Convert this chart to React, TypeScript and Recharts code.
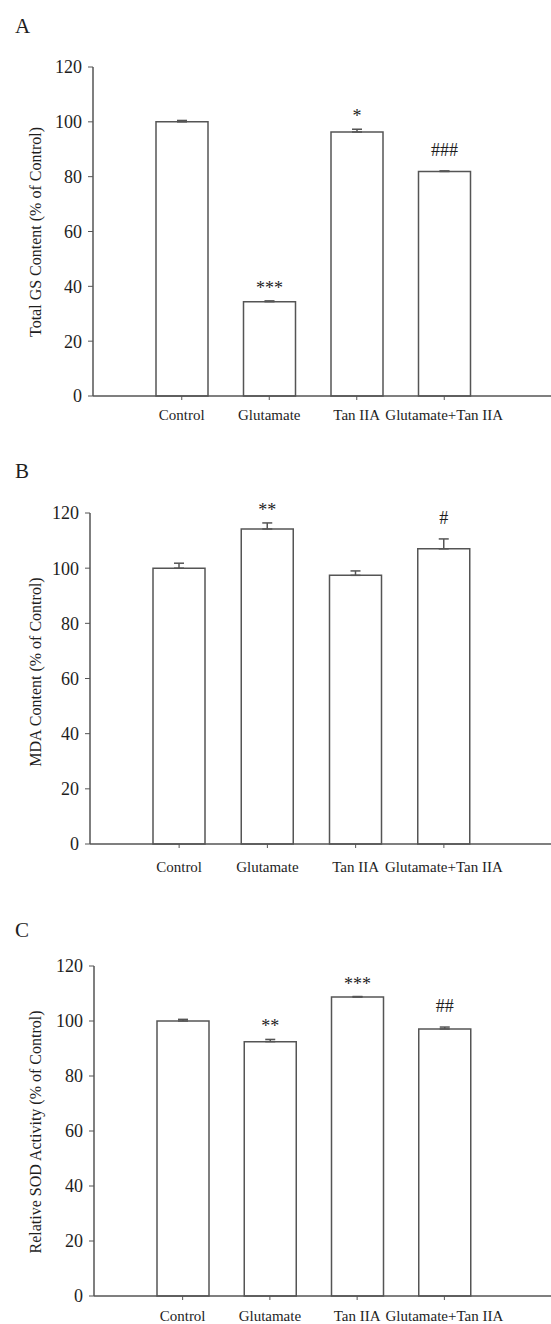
import { BarChart, Bar, XAxis, YAxis, ErrorBar, LabelList, Label } from "recharts";

const groups = ["Control", "Glutamate", "Tan IIA", "Glutamate+Tan IIA"];
const yTicks = [0, 20, 40, 60, 80, 100, 120];

// A - total GS content
const gsValues = [100, 34.4, 96.3, 81.9];
const gsErrors = [0.5, 0.3, 1.0, 0.2];
const gsMarks = ["", "***", "*", "###"];

// B - MDA content
const mdaValues = [100, 114.2, 97.4, 107.0];
const mdaErrors = [1.8, 2.2, 1.6, 3.6];
const mdaMarks = ["", "**", "", "#"];

// C - SOD activity
const sodValues = [100, 92.5, 108.7, 97.1];
const sodErrors = [0.6, 0.8, 0.2, 0.7];
const sodMarks = ["", "**", "***", "##"];

const FONT = '"Liberation Serif", "Times New Roman", serif';
const LINE = "#555555";
const TEXT = "#1e1e1e";

interface PanelProps {
  letter: string;
  letterTop: number;
  yLabel: string;
  values: number[];
  errors: number[];
  marks: string[];
  top: number;
  height: number;
  plotTop: number;
  plotBottom: number;
  axisLeft: number;
  labelCenter: number;
  tickGap: number;
}

function Panel(p: PanelProps) {
  const data = groups.map((name, i) => ({
    name,
    value: p.values[i],
    err: [0, p.errors[i]],
    mark: p.marks[i],
  }));

  const renderMark = (props: any) => {
    const vb = props.viewBox || {};
    const x = props.x ?? vb.x;
    const y = props.y ?? vb.y;
    const w = props.width ?? vb.width;
    const h = props.height ?? vb.height;
    const i = props.index;
    const mark = p.marks[i];
    if (!mark) return null;
    const errTop = y - (p.errors[i] * h) / p.values[i];
    const gap = mark.startsWith("#") ? 15 : 7;
    return (
      <text x={x + w / 2} y={errTop - gap} textAnchor="middle" fontSize={18} fontFamily={FONT} fill={TEXT}>
        {mark}
      </text>
    );
  };

  const renderYLabel = () => (
    <text
      x={35}
      y={p.labelCenter}
      transform={`rotate(-90, 35, ${p.labelCenter})`}
      textAnchor="middle"
      dominantBaseline="central"
      fontSize={16}
      fontFamily={FONT}
      fill={TEXT}
    >
      {p.yLabel}
    </text>
  );

  return (
    <div style={{ position: "absolute", left: 0, top: p.top, width: 551, height: p.height }}>
      <div
        style={{
          position: "absolute",
          left: 15,
          top: p.letterTop,
          fontFamily: FONT,
          fontSize: 21,
          lineHeight: "21px",
          color: TEXT,
        }}
      >
        {p.letter}
      </div>
      <BarChart
        width={551}
        height={p.height}
        data={data}
        margin={{ top: p.plotTop, right: 0, left: 0, bottom: p.height - p.plotBottom - 20 }}
      >
        <XAxis
          dataKey="name"
          height={20}
          padding={{ left: 45, right: 63 }}
          axisLine={{ stroke: LINE, strokeWidth: 1.5 }}
          tickLine={{ stroke: LINE }}
          tickSize={4}
          tickMargin={p.tickGap}
          interval={0}
          tick={{ fontSize: 15, fontFamily: FONT, fill: TEXT }}
        />
        <YAxis
          width={p.axisLeft}
          domain={[0, 120]}
          ticks={yTicks}
          interval={0}
          axisLine={{ stroke: LINE, strokeWidth: 1.5 }}
          tickLine={{ stroke: LINE }}
          tickSize={5}
          tickMargin={6}
          tick={{ fontSize: 18, fontFamily: FONT, fill: TEXT }}
        >
          <Label content={renderYLabel} />
        </YAxis>
        <Bar dataKey="value" barSize={52} fill="#ffffff" stroke={LINE} strokeWidth={1.5} isAnimationActive={false}>
          <ErrorBar dataKey="err" width={5} stroke={LINE} strokeWidth={1.5} direction="y" isAnimationActive={false} />
          <LabelList dataKey="mark" content={renderMark} />
        </Bar>
      </BarChart>
    </div>
  );
}

export default function App() {
  return (
    <div style={{ position: "absolute", left: 0, top: 0, width: 551, height: 1324, background: "#fff" }}>
      <Panel
        letter="A"
        letterTop={15.5}
        yLabel="Total GS Content (% of Control)"
        values={gsValues}
        errors={gsErrors}
        marks={gsMarks}
        top={0}
        height={440}
        plotTop={67}
        plotBottom={396}
        axisLeft={93}
        labelCenter={232}
        tickGap={9}
      />
      <Panel
        letter="B"
        letterTop={21}
        yLabel="MDA Content (% of Control)"
        values={mdaValues}
        errors={mdaErrors}
        marks={mdaMarks}
        top={440}
        height={440}
        plotTop={73}
        plotBottom={404}
        axisLeft={90}
        labelCenter={232}
        tickGap={13}
      />
      <Panel
        letter="C"
        letterTop={40}
        yLabel="Relative SOD Activity (% of Control)"
        values={sodValues}
        errors={sodErrors}
        marks={sodMarks}
        top={880}
        height={444}
        plotTop={86}
        plotBottom={416}
        axisLeft={94}
        labelCenter={252}
        tickGap={10}
      />
    </div>
  );
}
